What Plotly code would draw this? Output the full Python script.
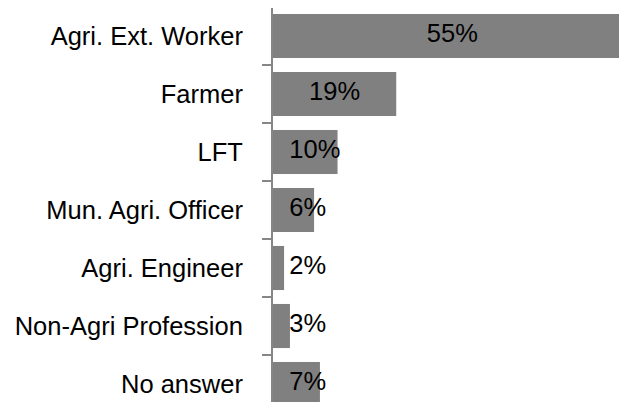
import plotly.graph_objects as go

categories = ["Agri. Ext. Worker", "Farmer", "LFT", "Mun. Agri. Officer",
              "Agri. Engineer", "Non-Agri Profession", "No answer"]
values = [55, 18.9, 9.9, 6.3, 1.7, 2.6, 7.2]

BAR_COLOR = "#808080"
FONT = "Liberation Sans, Arial, sans-serif"
FSIZE = 25.5

labels = [f"{round(v)}%" for v in values]
center_x = [v / 2 for v in values]
big = [v >= 15 for v in values]

fig = go.Figure()
fig.add_trace(go.Bar(
    y=categories, x=values, orientation="h",
    marker=dict(color=BAR_COLOR, line=dict(width=0)),
    hoverinfo="skip",
))
fig.add_trace(go.Scatter(
    y=[c for c, b in zip(categories, big) if b],
    x=[x for x, b in zip(center_x, big) if b],
    text=[t for t, b in zip(labels, big) if b],
    mode="text", textposition="middle center",
    textfont=dict(family=FONT, size=FSIZE, color="black"),
    hoverinfo="skip", cliponaxis=False,
))
fig.add_trace(go.Scatter(
    y=[c for c, b in zip(categories, big) if not b],
    x=[2.5] * sum(1 for b in big if not b),
    text=[t for t, b in zip(labels, big) if not b],
    mode="text", textposition="middle right",
    textfont=dict(family=FONT, size=FSIZE, color="black"),
    hoverinfo="skip", cliponaxis=False,
))

fig.update_layout(
    width=619, height=394,
    margin=dict(l=265, r=0, t=0, b=0, autoexpand=False),
    paper_bgcolor="white", plot_bgcolor="white",
    showlegend=False, bargap=0.24,
    font=dict(family=FONT, size=FSIZE, color="black"),
)
fig.update_xaxes(range=[0, 354 / 6.52], showgrid=False, zeroline=False,
                 showticklabels=False, showline=False, ticks="", automargin=False)
fig.update_yaxes(type="category", categoryorder="array", categoryarray=categories,
                 range=[-0.5 + 395 / 58, -0.5 + 1 / 58], automargin=False,
                 showline=True, linecolor="#868686", linewidth=2,
                 ticks="outside", ticklen=9, tickwidth=2, tickcolor="#868686",
                 tickson="boundaries", showgrid=False, zeroline=False,
                 ticklabelstandoff=23,
                 tickfont=dict(family=FONT, size=FSIZE, color="black"))

fig.write_html("out.html")
